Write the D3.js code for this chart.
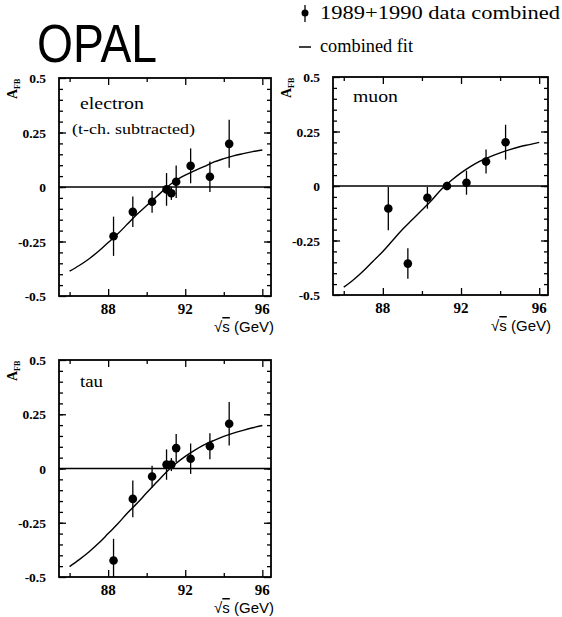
<!DOCTYPE html>
<html>
<head>
<meta charset="utf-8">
<script src="https://cdn.jsdelivr.net/npm/d3@7"></script>
<style>
  html, body { margin: 0; padding: 0; background: #fff; }
  svg { display: block; }
</style>
</head>
<body>
<svg id="chart" width="562" height="617"></svg>
<script>
// ---------------- DATA ----------------
const xTickValues = [86, 88, 90, 92, 94, 96];
const xTickLabels = [88, 92, 96];
const yTickLabels = [-0.5, -0.25, 0, 0.25, 0.5];
const yTickLabelText = ["-0.5", "-0.25", "0", "0.25", "0.5"];

const electronE   = [88.28, 89.28, 90.28, 91.03, 91.28, 91.53, 92.28, 93.28, 94.28];
const electronA   = [-0.226, -0.114, -0.068, -0.011, -0.029, 0.024, 0.097, 0.047, 0.198];
const electronErr = [0.09, 0.07, 0.05, 0.075, 0.03, 0.075, 0.08, 0.07, 0.11];

const muonE   = [88.28, 89.28, 90.28, 91.28, 92.28, 93.28, 94.28];
const muonA   = [-0.103, -0.356, -0.054, 0.0, 0.015, 0.112, 0.201];
const muonErr = [0.1, 0.07, 0.05, 0.02, 0.055, 0.055, 0.08];

const tauE   = [88.28, 89.28, 90.28, 91.03, 91.28, 91.53, 92.28, 93.28, 94.28];
const tauA   = [-0.424, -0.14, -0.037, 0.018, 0.018, 0.094, 0.045, 0.103, 0.206];
const tauErr = [0.1, 0.085, 0.05, 0.07, 0.03, 0.065, 0.07, 0.06, 0.1];

// fit curves
const fitE        = [86, 86.5, 87, 87.5, 88, 88.5, 89, 89.5, 90, 90.5, 91, 91.5, 92, 92.5, 93, 93.5, 94, 94.5, 95, 95.5, 96];
const electronFit = [-0.386, -0.36, -0.33, -0.295, -0.255, -0.215, -0.17, -0.125, -0.085, -0.045, -0.005, 0.03, 0.055, 0.075, 0.095, 0.115, 0.13, 0.143, 0.153, 0.162, 0.17];
const muonFit     = [-0.464, -0.43, -0.39, -0.345, -0.3, -0.25, -0.2, -0.155, -0.11, -0.065, -0.015, 0.025, 0.06, 0.09, 0.115, 0.135, 0.152, 0.167, 0.18, 0.19, 0.2];
const tauFit      = [-0.452, -0.42, -0.385, -0.345, -0.3, -0.255, -0.205, -0.16, -0.112, -0.065, -0.018, 0.022, 0.056, 0.085, 0.11, 0.13, 0.148, 0.163, 0.176, 0.188, 0.198];

// ---------------- LAYOUT ----------------
const svg = d3.select("#chart");
const serif = "'Liberation Serif', 'DejaVu Serif', serif";
const sans = "'Liberation Sans', Arial, sans-serif";

const panels = [
  { label: "electron", sub: "(t-ch. subtracted)", E: electronE, A: electronA, err: electronErr, fit: electronFit,
    left: 59, right: 271, top: 78, bottom: 296, labelX: 80, labelY: 109, labelW: 64 },
  { label: "muon", sub: null, E: muonE, A: muonA, err: muonErr, fit: muonFit,
    left: 333, right: 548, top: 77, bottom: 295, labelX: 353, labelY: 102, labelW: 45 },
  { label: "tau", sub: null, E: tauE, A: tauA, err: tauErr, fit: tauFit,
    left: 59, right: 271, top: 360, bottom: 577, labelX: 80, labelY: 387, labelW: 23 }
];

const xDomain = [85.45, 96.45];

panels.forEach((p, idx) => {
  const x = d3.scaleLinear().domain(xDomain).range([p.left, p.right]);
  const y = d3.scaleLinear().domain([-0.5, 0.5]).range([p.bottom, p.top]);
  const g = svg.append("g");
  const clipId = "clip" + idx;
  svg.append("clipPath").attr("id", clipId).append("rect")
    .attr("x", p.left).attr("y", p.top).attr("width", p.right - p.left).attr("height", p.bottom - p.top);

  const yMinor = d3.range(-0.45, 0.5, 0.05).map(v => +v.toFixed(2));
  const yMajor = yTickLabels;
  const xMinorT = xTickValues.filter(v => !xTickLabels.includes(v));

  const tickStyle = sel => { sel.select(".domain").remove(); sel.selectAll("line").attr("stroke", "#000").attr("stroke-width", 1.3); sel.selectAll("text").remove(); };
  g.append("g").attr("transform", `translate(${p.left},0)`).call(d3.axisRight(y).tickValues(yMinor).tickSize(4)).call(tickStyle);
  g.append("g").attr("transform", `translate(${p.left},0)`).call(d3.axisRight(y).tickValues(yMajor).tickSize(7)).call(tickStyle);
  g.append("g").attr("transform", `translate(${p.right},0)`).call(d3.axisLeft(y).tickValues(yMinor).tickSize(4)).call(tickStyle);
  g.append("g").attr("transform", `translate(${p.right},0)`).call(d3.axisLeft(y).tickValues(yMajor).tickSize(7)).call(tickStyle);
  g.append("g").attr("transform", `translate(0,${p.bottom})`).call(d3.axisTop(x).tickValues(xMinorT).tickSize(4)).call(tickStyle);
  g.append("g").attr("transform", `translate(0,${p.bottom})`).call(d3.axisTop(x).tickValues(xTickLabels).tickSize(7)).call(tickStyle);
  g.append("g").attr("transform", `translate(0,${p.top})`).call(d3.axisBottom(x).tickValues(xMinorT).tickSize(4)).call(tickStyle);
  g.append("g").attr("transform", `translate(0,${p.top})`).call(d3.axisBottom(x).tickValues(xTickLabels).tickSize(7)).call(tickStyle);

  // frame
  g.append("rect").attr("x", p.left).attr("y", p.top).attr("width", p.right - p.left).attr("height", p.bottom - p.top)
    .attr("fill", "none").attr("stroke", "#000").attr("stroke-width", 1.8);

  // y tick labels
  g.selectAll(".ylab").data(yTickLabels).enter().append("text")
    .attr("x", p.left - 13).attr("y", d => y(d) + 5)
    .attr("text-anchor", "end").attr("font-family", serif).attr("font-weight", "bold").attr("font-size", 13.5)
    .text((d, i) => yTickLabelText[i]);

  // x tick labels
  g.selectAll(".xlab").data(xTickLabels).enter().append("text")
    .attr("x", d => x(d)).attr("y", p.bottom + 18)
    .attr("text-anchor", "middle").attr("font-family", serif).attr("font-weight", "bold").attr("font-size", 15)
    .text(d => d);

  // x axis title
  const xt = g.append("text").attr("x", p.right + 3).attr("y", p.bottom + 36)
    .attr("text-anchor", "end").attr("font-family", sans).attr("font-size", 15);
  xt.append("tspan").text("√");
  xt.append("tspan").attr("text-decoration", "overline").text("s");
  xt.append("tspan").text(" (GeV)");

  // y axis title A_FB rotated
  const yt = g.append("text").attr("transform", `translate(${p.left - 42},${p.top + 21}) rotate(-90)`)
    .attr("font-family", serif).attr("font-weight", "bold").attr("font-size", 14);
  yt.append("tspan").text("A");
  yt.append("tspan").attr("font-size", 8).attr("dy", 3).text("FB");

  // zero line
  g.append("line").attr("x1", p.left).attr("x2", p.right).attr("y1", y(0)).attr("y2", y(0))
    .attr("stroke", "#000").attr("stroke-width", 1.3);

  // fit curve
  const line = d3.line().x((d, i) => x(fitE[i])).y(d => y(d)).curve(d3.curveMonotoneX);
  g.append("path").datum(p.fit).attr("d", line).attr("fill", "none").attr("stroke", "#000").attr("stroke-width", 1.4);

  // error bars and points
  const pts = p.E.map((e, i) => ({ e, a: p.A[i], s: p.err[i] }));
  const pg = g.append("g").attr("clip-path", `url(#${clipId})`);
  pg.selectAll(".err").data(pts).enter().append("line")
    .attr("x1", d => x(d.e)).attr("x2", d => x(d.e))
    .attr("y1", d => y(d.a - d.s)).attr("y2", d => y(d.a + d.s))
    .attr("stroke", "#000").attr("stroke-width", 1.3);
  pg.selectAll(".pt").data(pts).enter().append("circle")
    .attr("cx", d => x(d.e)).attr("cy", d => y(d.a)).attr("r", 4.3).attr("fill", "#000");

  // panel labels
  g.append("text").attr("x", p.labelX).attr("y", p.labelY)
    .attr("font-family", serif).attr("font-size", 17)
    .attr("textLength", p.labelW).attr("lengthAdjust", "spacingAndGlyphs").text(p.label);
  if (p.sub) {
    g.append("text").attr("x", 72).attr("y", 134)
      .attr("font-family", serif).attr("font-size", 14)
      .attr("textLength", 123).attr("lengthAdjust", "spacingAndGlyphs").text(p.sub);
  }
});

// ---------------- TITLE & LEGEND ----------------
svg.append("text").attr("x", 37).attr("y", 62)
  .attr("font-family", sans).attr("font-size", 53)
  .attr("textLength", 120).attr("lengthAdjust", "spacingAndGlyphs").text("OPAL");

svg.append("line").attr("x1", 305).attr("x2", 305).attr("y1", 5).attr("y2", 22).attr("stroke", "#000").attr("stroke-width", 1.3);
svg.append("circle").attr("cx", 305).attr("cy", 13).attr("r", 3.5).attr("fill", "#000");
svg.append("text").attr("x", 320).attr("y", 19).attr("font-family", serif).attr("font-size", 18)
  .attr("textLength", 240).attr("lengthAdjust", "spacingAndGlyphs").text("1989+1990 data combined");

svg.append("line").attr("x1", 299).attr("x2", 311).attr("y1", 47).attr("y2", 47).attr("stroke", "#000").attr("stroke-width", 1.5);
svg.append("text").attr("x", 320).attr("y", 52).attr("font-family", serif).attr("font-size", 18)
  .attr("textLength", 93).attr("lengthAdjust", "spacingAndGlyphs").text("combined fit");
</script>
</body>
</html>
